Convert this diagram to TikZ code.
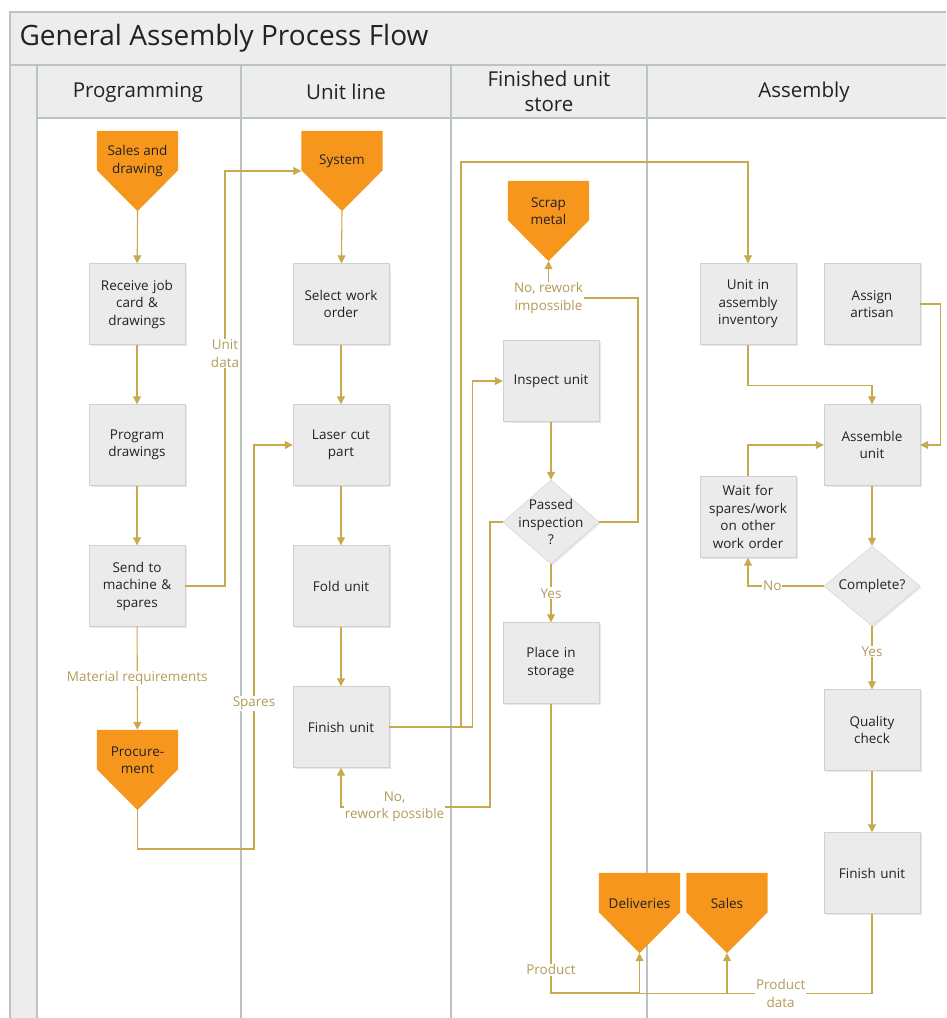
\documentclass[tikz,border=0pt]{standalone}
\usepackage{fontspec}
\setmainfont{Open Sans}
\usepackage{xcolor}
\usetikzlibrary{positioning, arrows.meta, shapes.geometric, calc, backgrounds, shadows}

\definecolor{laneline}{HTML}{B8C4C6}
\definecolor{headfill}{HTML}{EDEDED}
\definecolor{boxfill}{HTML}{EBEBEB}
\definecolor{boxline}{HTML}{D0D0D0}
\definecolor{offfill}{HTML}{F7961C}
\definecolor{flowc}{HTML}{C8AA4E}
\definecolor{lblc}{HTML}{B39B57}
\definecolor{ink}{HTML}{222222}

\newcommand{\boxfont}{\fontsize{13.5}{17.5}\selectfont}
\newcommand{\headfont}{\fontsize{20.5}{25}\selectfont}

\begin{document}
\begin{tikzpicture}[
    x=1pt, y=-1pt,
    box/.style={rectangle, draw=boxline, fill=boxfill, minimum width=96pt, minimum height=81pt, text width=88pt, align=center, inner sep=0pt, font=\boxfont, text=ink, drop shadow={shadow xshift=1.5pt, shadow yshift=-1.5pt, opacity=0.18}},
    decision/.style={diamond, draw=boxline, fill=boxfill, minimum width=96pt, inner sep=0pt, drop shadow={shadow xshift=1.5pt, shadow yshift=-1.5pt, opacity=0.18}},
    dtext/.style={font=\boxfont, text=ink, align=center},
    offpage/.style={rectangle, minimum width=81pt, minimum height=60pt, inner sep=0pt, align=center, font=\boxfont, text=ink},
    flow/.style={draw=flowc, line width=1.1pt, -{Triangle[length=8pt, width=8pt]}},
    plain/.style={draw=flowc, line width=1.1pt},
    lbl/.style={fill=white, text=lblc, font=\boxfont, align=center, inner sep=1pt},
    lane/.style={draw=laneline, line width=1.3pt},
    head/.style={font=\headfont, text=ink, align=center}
]
\useasboundingbox (0,0) rectangle (946,1018);

% Swimlanes
\begin{scope}[on background layer]
\fill[headfill] (10,12) rectangle (946,65);
\fill[headfill] (37,65) rectangle (946,118);
\fill[headfill] (10,65) rectangle (37,1018);
\draw[lane] (10,1018) -- (10,12) -- (946,12);
\draw[lane] (10,65) -- (946,65);
\draw[lane] (37,118) -- (946,118);
\foreach \x in {37,241,451,647}
    \draw[lane] (\x,65) -- (\x,1018);
\end{scope}

\node[anchor=west, font=\fontsize{28}{32}\selectfont, text=ink] (title) at (16,38) {General Assembly Process Flow};
\node[head] (hProg) at (138,92) {Programming};
\node[head] (hUnit) at (346,92) {Unit line};
\node[head] (hStore) at (549,91) {Finished unit\\store};
\node[head] (hAsm) at (804,92) {Assembly};

% Off-page references
\node[offpage] (salesdr) at (137.5,161) {Sales and\\drawing};
\node[offpage] (system) at (342,161) {System};
\node[offpage] (scrap) at (548.5,211) {Scrap\\metal};
\node[offpage] (proc) at (137.5,760) {Procure-\\ment};
\node[offpage] (deliv) at (639.5,903) {Deliveries};
\node[offpage] (sales) at (727,903) {Sales};

\begin{scope}[on background layer]
\foreach \n in {salesdr, system, scrap, proc, deliv, sales}
    \fill[offfill] (\n.north west) -- (\n.north east) -- ([yshift=21pt]\n.south east)
        -- ([yshift=-20pt]\n.south) -- ([yshift=21pt]\n.south west) -- cycle;
\end{scope}

% Programming
\node[box] (recv) at (137,304) {Receive job\\card \&\\drawings};
\node[box] (progdr) at (137,445) {Program\\drawings};
\node[box] (sendm) at (137,586) {Send to\\machine \&\\spares};

% Unit line
\node[box] (selwo) at (341,304) {Select work\\order};
\node[box] (laser) at (341,445) {Laser cut\\part};
\node[box] (fold) at (341,586) {Fold unit};
\node[box] (finu) at (341,727) {Finish unit};

% Finished unit store
\node[box] (insp) at (551,381) {Inspect unit};
\node[decision, minimum height=84pt, label={[dtext]center:{Passed\\inspection\\?}}] (pass) at (551,522) {};
\node[box] (store) at (551,663) {Place in\\storage};

% Assembly
\node[box] (uia) at (748,304) {Unit in\\assembly\\inventory};
\node[box] (assign) at (872,304) {Assign\\artisan};
\node[box] (asm) at (872,445) {Assemble\\unit};
\node[box] (wait) at (748,517) {Wait for\\spares/work\\on other\\work order};
\node[decision, minimum height=80pt, label={[dtext]center:{Complete?}}] (comp) at (872,586) {};
\node[box] (qual) at (872,730) {Quality\\check};
\node[box] (fin2) at (872,873) {Finish unit};

% Edges Programming
\draw[flow] ([yshift=-20pt]salesdr.south) -- (recv);
\draw[flow] (recv) -- (progdr);
\draw[flow] (progdr) -- (sendm);
\draw[flow] (sendm) -- node[lbl] {Material requirements} (proc);
\draw[flow] (sendm.east) -| node[lbl, pos=0.78] {Unit\\data} (225,171) -- ([yshift=-10pt]system.west);
\draw[flow] ([yshift=-20pt]proc.south) |- (254,849) |- node[lbl, pos=0.18] {Spares} (laser.west);

% Edges Unit line
\draw[flow] ([yshift=-20pt]system.south) -- (selwo);
\draw[flow] (selwo) -- (laser);
\draw[flow] (laser) -- (fold);
\draw[flow] (fold) -- (finu);
\draw[flow] (finu.east) -| ([xshift=-30pt]insp.west) -- (insp.west);
\draw[flow] (finu.east) -| (461,162) -| (uia.north);

% Edges Finished unit store
\draw[flow] (insp) -- (pass);
\draw[flow] (pass) -- node[lbl] {Yes} (store);
\draw[flow] (pass.east) -| (638,298) -| node[lbl, pos=0.5] {No, rework\\impossible} ([yshift=-20pt]scrap.south);
\draw[flow] (pass.west) -| (490,807) -| node[lbl, pos=0.32] {No,\\rework possible} (finu.south);
\draw[flow] (store.south) -- node[lbl, pos=0.92] {Product} (551,993) -| ([yshift=-20pt]deliv.south);

% Edges Assembly
\draw[flow] (uia.south) |- ([yshift=19pt]asm.north) -- (asm.north);
\draw[flow] (assign.east) -- ++(20,0) |- (asm.east);
\draw[flow] (wait.north) |- (asm.west);
\draw[flow] (asm) -- (comp);
\draw[flow] (comp.west) -| node[lbl, pos=0.34] {No} (wait.south);
\draw[flow] (comp) -- node[lbl, pos=0.4] {Yes} (qual);
\draw[flow] (qual) -- (fin2);
\draw[flow] (fin2.south) |- node[lbl, pos=0.815] {Product\\data} ([yshift=-60pt]sales.south) -- ([yshift=-20pt]sales.south);
\draw[plain] ([yshift=-60pt]sales.south) -- ([yshift=-60pt]deliv.south);

\end{tikzpicture}
\end{document}
